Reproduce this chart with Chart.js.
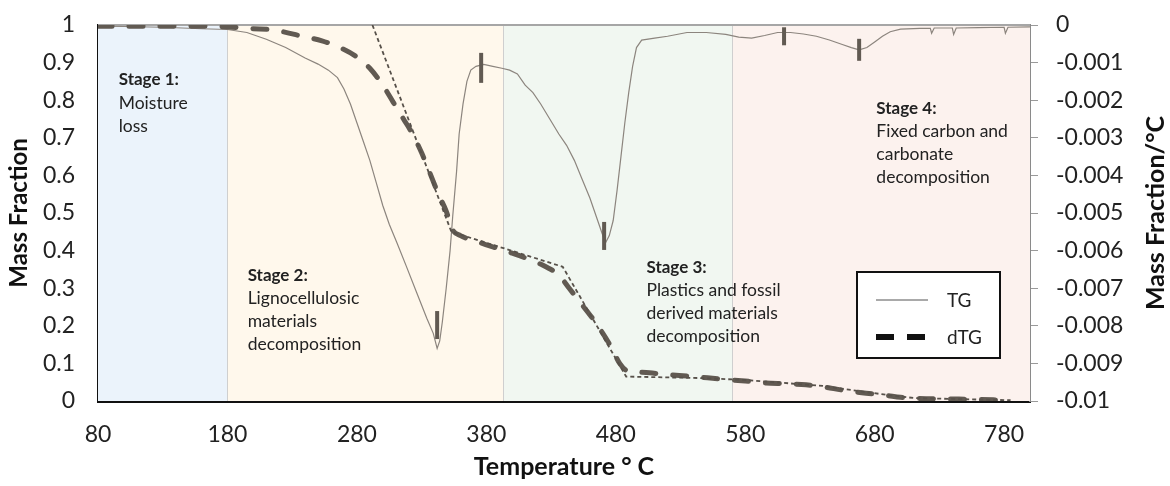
<!DOCTYPE html>
<html>
<head>
<meta charset="utf-8">
<title>TG / dTG</title>
<script src="https://cdn.jsdelivr.net/npm/chart.js@4.4.1/dist/chart.umd.min.js"></script>
<style>
  html, body { margin: 0; padding: 0; background: #fff; }
  #wrap { width: 1170px; height: 486px; }
</style>
</head>
<body>
<div id="wrap"><canvas id="tgChart" width="1170" height="486"></canvas></div>
<script>
// temperature ticks along the bottom
const xTicks = [80, 180, 280, 380, 480, 580, 680, 780];

// stage bands (temperature edges) and their fills
const stageEdges = [80, 180, 393, 570, 800];
const stageNames = ["Stage 1:", "Stage 2:", "Stage 3:", "Stage 4:"];
const stageLines = [
    ["Moisture", "loss"],
    ["Lignocellulosic", "materials", "decomposition"],
    ["Plastics and fossil", "derived materials", "decomposition"],
    ["Fixed carbon and", "carbonate", "decomposition"]
];

// thin curve, right axis (mass fraction per °C)
const tgTemps = [80, 100, 130, 160, 180, 195, 210, 225, 240, 250, 258, 265, 270, 275, 280, 285, 290, 295, 300,
    305, 311, 318, 326, 334, 339, 342, 344, 346, 349, 352, 354, 357, 359, 362, 365, 368, 372, 378, 385, 392,
    398, 404, 410, 416, 422, 429, 436, 442, 448, 454, 460, 465, 469, 472, 475, 478, 481, 484, 487, 490, 493,
    496, 500, 510, 520, 535, 550, 565, 575, 585, 595, 605, 615, 625, 635, 645, 655, 662, 668, 674, 680, 686,
    692, 700, 715, 723, 724, 726, 740, 741, 743, 760, 780, 781, 783, 800];
const tgValues = [-0.00003, -0.00004, -0.00006, -0.0001, -0.00012, -0.0002, -0.00038, -0.0006, -0.00088,
    -0.00104, -0.0012, -0.0014, -0.0017, -0.0021, -0.0026, -0.0031, -0.0036, -0.0042, -0.0048, -0.0053,
    -0.0058, -0.0064, -0.0071, -0.0078, -0.0082, -0.0086, -0.0084, -0.0079, -0.007, -0.006, -0.0051,
    -0.0039, -0.0029, -0.0021, -0.0015, -0.0012, -0.0011, -0.00105, -0.0011, -0.00115, -0.0012, -0.0013,
    -0.0016, -0.0018, -0.0021, -0.0025, -0.0029, -0.0032, -0.0036, -0.0041, -0.0046, -0.0051, -0.0055,
    -0.0058, -0.0056, -0.0052, -0.0044, -0.0035, -0.0026, -0.0018, -0.0011, -0.0006, -0.0004, -0.00035,
    -0.0003, -0.0002, -0.0002, -0.00025, -0.00032, -0.00035, -0.00028, -0.0002, -0.0002, -0.00024,
    -0.0003, -0.0004, -0.00052, -0.0006, -0.00066, -0.0006, -0.00045, -0.0003, -0.00018, -0.00011,
    -0.00009, -0.00009, -0.00022, -0.00008, -0.00008, -0.00025, -0.00008, -0.00007, -0.00006, -0.00022,
    -0.00006, -0.00005];

// thick dashed curve, left axis (mass fraction)
const dtgTemps = [80, 130, 180, 200, 213, 238, 253, 267, 280, 290, 300, 308, 316, 323, 330, 336, 343, 349,
    354, 360, 369, 385, 400, 412, 426, 436, 444, 453, 462, 470, 477, 483, 489, 496, 506, 520, 537, 562, 580,
    596, 612, 627, 641, 655, 670, 689, 700, 714, 745, 785];
const dtgValues = [0.997, 0.997, 0.995, 0.99, 0.988, 0.97, 0.958, 0.94, 0.915, 0.885, 0.84, 0.795, 0.75,
    0.71, 0.66, 0.61, 0.55, 0.505, 0.455, 0.44, 0.428, 0.41, 0.393, 0.378, 0.357, 0.335, 0.3, 0.26, 0.22,
    0.18, 0.14, 0.1, 0.08, 0.077, 0.075, 0.07, 0.066, 0.058, 0.053, 0.048, 0.046, 0.043, 0.037, 0.029,
    0.022, 0.015, 0.01, 0.007, 0.005, 0.002];

// short-dashed segmented guide over the mass curve
const guideTemps = [292, 353, 439, 488, 545, 580, 610, 640, 660, 690, 710, 745, 785];
const guideValues = [1.0, 0.45, 0.357, 0.065, 0.061, 0.056, 0.048, 0.04, 0.03, 0.016, 0.008, 0.005, 0.002];

// peak markers on the thin curve
const markerTemps = [342, 376, 471, 610, 668];
const markerValues = [-0.00798, -0.00114, -0.00561, -0.0003, -0.00066];

const FONT = "Lato, 'Open Sans', sans-serif";
const INK = "#615a52";

function toPoints(xs, ys) {
    return xs.map((x, i) => ({ x: x, y: ys[i] }));
}

// fixed side width, and no extra room above/below for the end labels
function fixWidth(w) {
    return scale => {
        scale.width = w;
        scale.paddingTop = 0;
        scale.paddingBottom = 0;
    };
}

// shaded stage bands behind the curves + top frame line
const stageBands = {
    id: "stageBands",
    beforeDatasetsDraw(chart) {
        const { ctx, chartArea, scales } = chart;
        const fills = ["#ebf3fb", "#fff8ec", "#f1f7f1", "#fcf2ee"];
        ctx.save();
        for (let i = 0; i < fills.length; i++) {
            const x0 = scales.x.getPixelForValue(stageEdges[i]);
            const x1 = scales.x.getPixelForValue(stageEdges[i + 1]);
            ctx.fillStyle = fills[i];
            ctx.fillRect(x0, chartArea.top, x1 - x0, chartArea.bottom - chartArea.top);
        }
        ctx.strokeStyle = "#cfcfcf";
        ctx.lineWidth = 1;
        for (let i = 1; i < stageEdges.length - 1; i++) {
            const x = Math.round(scales.x.getPixelForValue(stageEdges[i])) + 0.5;
            ctx.beginPath();
            ctx.moveTo(x, chartArea.top);
            ctx.lineTo(x, chartArea.bottom);
            ctx.stroke();
        }
        ctx.strokeStyle = "#a6a6a6";
        ctx.lineWidth = 2;
        ctx.beginPath();
        ctx.moveTo(chartArea.left, chartArea.top);
        ctx.lineTo(chartArea.right, chartArea.top);
        ctx.stroke();
        ctx.restore();
    }
};

// stage captions, right axis title and the boxed legend
const overlay = {
    id: "overlay",
    afterDraw(chart) {
        const { ctx, chartArea, scales } = chart;
        const anchors = [[96, 0.854], [195.6, 0.335], [503.7, 0.356], [681.3, 0.777]];
        ctx.save();
        ctx.fillStyle = "#222";
        ctx.textBaseline = "middle";
        ctx.textAlign = "left";
        stageNames.forEach((name, i) => {
            const x = scales.x.getPixelForValue(anchors[i][0]);
            let y = scales.y.getPixelForValue(anchors[i][1]);
            ctx.font = "bold 17px " + FONT;
            ctx.fillText(name, x, y);
            ctx.font = "17.5px " + FONT;
            stageLines[i].forEach(line => {
                y += 23;
                ctx.fillText(line, x, y);
            });
        });

        // right axis title reads bottom to top
        ctx.save();
        ctx.translate(1156, (chartArea.top + chartArea.bottom) / 2);
        ctx.rotate(-Math.PI / 2);
        ctx.textAlign = "center";
        ctx.font = "bold 25px " + FONT;
        ctx.fillStyle = "#111";
        ctx.fillText("Mass Fraction/°C", 0, 0);
        ctx.restore();

        // legend box
        const bx = chartArea.right - 173, by = chartArea.top + 247, bw = 143, bh = 86;
        ctx.fillStyle = "#fff";
        ctx.fillRect(bx, by, bw, bh);
        ctx.strokeStyle = "#111";
        ctx.lineWidth = 2;
        ctx.strokeRect(bx, by, bw, bh);

        const sets = chart.data.datasets.filter(d => d.label);
        sets.forEach((ds, i) => {
            const ly = by + 28 + i * 37;
            ctx.beginPath();
            ctx.strokeStyle = i === 0 ? "#555" : "#111";
            ctx.lineWidth = i === 0 ? 1 : 6;
            ctx.setLineDash(i === 0 ? [] : [18, 13]);
            ctx.moveTo(bx + 19, ly);
            ctx.lineTo(bx + 71, ly);
            ctx.stroke();
            ctx.setLineDash([]);
            ctx.fillStyle = "#222";
            ctx.font = "19px " + FONT;
            ctx.fillText(ds.label, bx + 90, ly + 1);
        });
        ctx.restore();
    }
};

function init() {
    const canvas = document.getElementById("tgChart");

    new Chart(canvas, {
        type: "scatter",
        data: {
            datasets: [
                {
                    label: "TG",
                    data: toPoints(tgTemps, tgValues),
                    yAxisID: "y2",
                    showLine: true,
                    borderColor: "#8c857e",
                    borderWidth: 1.2,
                    pointRadius: 0,
                    order: 3
                },
                {
                    label: "dTG",
                    data: toPoints(dtgTemps, dtgValues),
                    yAxisID: "y",
                    showLine: true,
                    borderColor: INK,
                    borderWidth: 5,
                    borderDash: [14, 17],
                    borderCapStyle: "round",
                    cubicInterpolationMode: "monotone",
                    pointRadius: 0,
                    order: 2
                },
                {
                    data: toPoints(guideTemps, guideValues),
                    yAxisID: "y",
                    showLine: true,
                    borderColor: "#57514a",
                    borderWidth: 1.8,
                    borderDash: [4, 3],
                    pointRadius: 0,
                    order: 1
                },
                {
                    data: toPoints(markerTemps, markerValues),
                    yAxisID: "y2",
                    showLine: false,
                    pointStyle: "line",
                    rotation: 90,
                    radius: [14, 15, 14, 9, 11],
                    borderWidth: 4,
                    borderColor: INK,
                    order: 0
                }
            ]
        },
        options: {
            responsive: false,
            animation: false,
            layout: { padding: { top: 25, left: 0, right: 0, bottom: 0 } },
            plugins: {
                legend: { display: false },
                tooltip: { enabled: false }
            },
            scales: {
                x: {
                    type: "linear",
                    min: 80,
                    max: 800,
                    afterBuildTicks: scale => { scale.ticks = xTicks.map(v => ({ value: v })); },
                    afterFit: scale => { scale.height = 85; },
                    grid: { display: false, drawTicks: false },
                    border: { display: true, color: "#111", width: 3 },
                    ticks: { padding: 20, color: "#222", font: { family: FONT, size: 23 } },
                    title: {
                        display: true,
                        text: "Temperature ° C",
                        color: "#111",
                        padding: { top: 0, bottom: 4 },
                        font: { family: FONT, size: 25, weight: "bold" }
                    }
                },
                y: {
                    position: "left",
                    min: 0,
                    max: 1,
                    afterFit: fixWidth(98),
                    grid: { display: false, drawTicks: false },
                    border: { display: true, color: "#111", width: 2 },
                    ticks: {
                        stepSize: 0.1,
                        padding: 23,
                        color: "#222",
                        font: { family: FONT, size: 23 },
                        callback: v => String(Math.round(v * 10) / 10)
                    },
                    title: {
                        display: true,
                        text: "Mass Fraction",
                        color: "#111",
                        padding: { top: 5, bottom: 0 },
                        font: { family: FONT, size: 24, weight: "bold" }
                    }
                },
                y2: {
                    position: "right",
                    min: -0.01,
                    max: 0,
                    afterFit: fixWidth(140),
                    grid: { drawOnChartArea: false, drawTicks: true, tickLength: 8, color: "#9a9a9a" },
                    border: { display: true, color: "#8a8a8a", width: 2 },
                    ticks: {
                        stepSize: 0.001,
                        padding: 18,
                        color: "#222",
                        font: { family: FONT, size: 23 },
                        callback: v => (Math.abs(v) < 1e-9 ? "0" : String(Math.round(v * 1000) / 1000))
                    }
                }
            }
        },
        plugins: [stageBands, overlay]
    });
}

document.addEventListener("DOMContentLoaded", init);
</script>
</body>
</html>
